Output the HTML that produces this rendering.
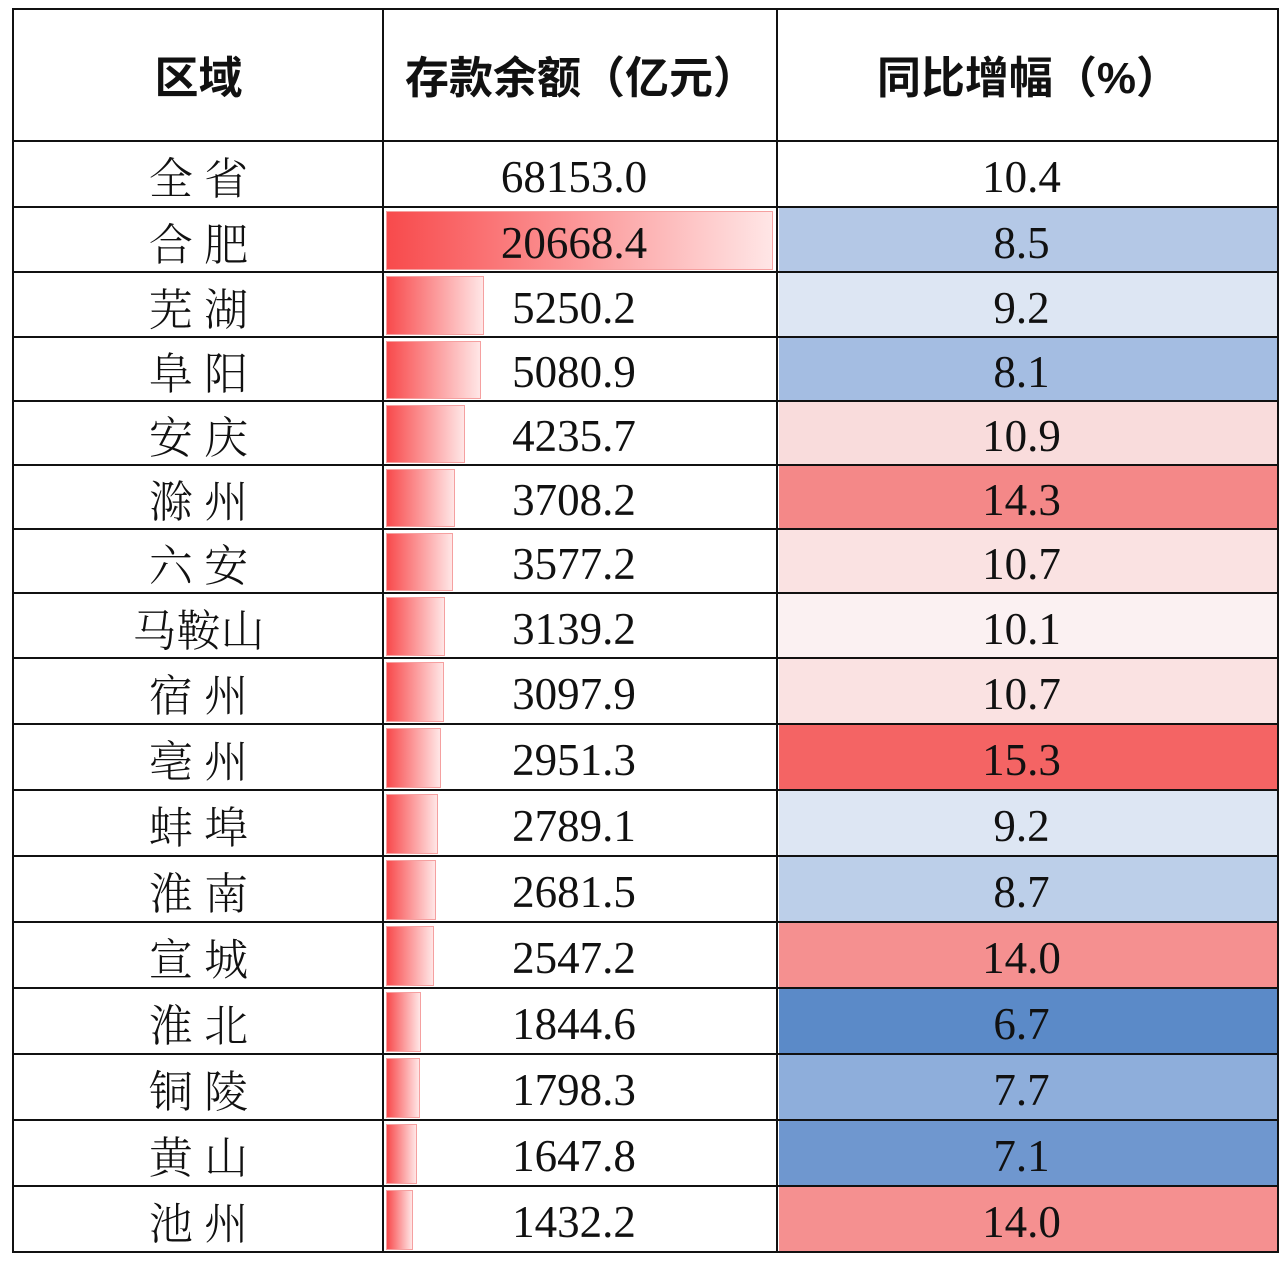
<!DOCTYPE html>
<html><head><meta charset="utf-8"><style>
body{margin:0;width:1280px;height:1262px;background:#fff;position:relative;overflow:hidden}
.h{position:absolute;left:12px;width:1267px;height:2px;background:#111}
.v{position:absolute;top:9px;height:1244px;width:2px;background:#111}
.c{position:absolute;display:flex;align-items:center;justify-content:center;font-size:40px;color:#111}
.n{font-family:"Liberation Serif","Times New Roman",Tinos,"DejaVu Serif",serif;font-size:45px}
.z{font-family:"Noto Serif CJK SC",serif;font-weight:300;font-size:44px}
.hd{font-family:"Liberation Sans","Noto Sans CJK SC",sans-serif;font-weight:bold;font-size:44px}
.bar{position:absolute;left:386px;background:linear-gradient(90deg,#f84a4c,#ffe6e6);border:1px solid #f5a0a0;box-sizing:border-box}
</style></head><body>
<div class="c hd" style="left:14px;top:9px;width:369px;height:130px">区域</div>
<div class="c hd" style="left:385px;top:9px;width:392px;height:130px">存款余额（亿元）</div>
<div class="c hd" style="left:779px;top:9px;width:499px;height:130px">同比增幅（%）</div>
<div id="rows"></div>
<script>
var d=[["全 省","68153.0","10.4","#fff",0],["合 肥","20668.4","8.5","#b4c8e6",1],["芜 湖","5250.2","9.2","#dde6f3",1],["阜 阳","5080.9","8.1","#a4bde2",1],["安 庆","4235.7","10.9","#f9dcdc",1],["滁 州","3708.2","14.3","#f48888",1],["六 安","3577.2","10.7","#fae2e2",1],["马鞍山","3139.2","10.1","#fbf1f2",1],["宿 州","3097.9","10.7","#fae2e2",1],["亳 州","2951.3","15.3","#f46464",1],["蚌 埠","2789.1","9.2","#dde6f3",1],["淮 南","2681.5","8.7","#bccfe9",1],["宣 城","2547.2","14.0","#f59090",1],["淮 北","1844.6","6.7","#5b8ac8",1],["铜 陵","1798.3","7.7","#8eaedb",1],["黄 山","1647.8","7.1","#6f97cf",1],["池 州","1432.2","14.0","#f59090",1]];
var ys=[141,207,272,337,401,465,529,593,658,724,790,856,922,988,1054,1120,1186,1252];
var h='';
for(var i=0;i<d.length;i++){var t=ys[i],b=ys[i+1],hh=b-t;
h+='<div style="position:absolute;left:779px;top:'+t+'px;width:499px;height:'+hh+'px;background:'+d[i][3]+'"></div>';
if(d[i][4]){var w=Math.round(387*parseFloat(d[i][1])/20668.4);h+='<div class="bar" style="top:'+(t+4)+'px;height:'+(hh-6)+'px;width:'+w+'px"></div>';}
h+='<div class="c z" style="left:14px;top:'+(t+1)+'px;width:369px;height:'+hh+'px;white-space:pre">'+d[i][0]+'</div>';
h+='<div class="c n" style="left:385px;top:'+(t+3)+'px;width:378px;height:'+hh+'px">'+d[i][1]+'</div>';
h+='<div class="c n" style="left:779px;top:'+(t+3)+'px;width:485px;height:'+hh+'px">'+d[i][2]+'</div>';}
h+='<div class="h" style="top:8px"></div>';
for(var i=0;i<ys.length;i++)h+='<div class="h" style="top:'+(ys[i]-1)+'px"></div>';
[12,382,776,1277].forEach(function(x){h+='<div class="v" style="left:'+x+'px"></div>'});
document.getElementById('rows').innerHTML=h;
</script>
</body></html>
